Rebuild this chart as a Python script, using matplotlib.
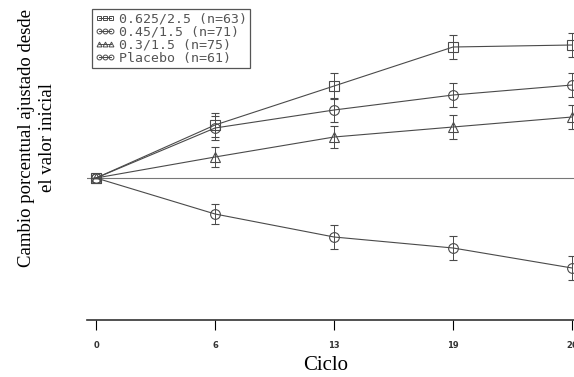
"""
Cambio porcentual ajustado desde el valor inicial por ciclo.
"""

import matplotlib

matplotlib.use("Agg")
import matplotlib.pyplot as plt  # noqa: E402
from matplotlib.lines import Line2D  # noqa: E402

ciclos = ["0", "6", "13", "19", "26"]
series = ["0.625/2.5 (n=63)", "0.45/1.5 (n=71)", "0.3/1.5 (n=75)", "Placebo (n=61)"]
dosis_alta = [0.0, 5.3, 9.2, 13.1, 13.3]
dosis_media = [0.0, 5.0, 6.8, 8.3, 9.3]
dosis_baja = [0.0, 2.1, 4.1, 5.1, 6.1]
placebo = [0.0, -3.6, -5.9, -7.0, -9.0]
err_alta = [0.0, 1.2, 1.3, 1.2, 1.2]
err_media = [0.0, 1.2, 1.2, 1.2, 1.2]
err_baja = [0.0, 1.0, 1.1, 1.2, 1.2]
err_placebo = [0.0, 1.0, 1.2, 1.2, 1.2]

LINE = "#4a4a4a"


def main():
    fig = plt.figure(figsize=(5.74, 3.77), dpi=100)
    ax = fig.add_axes([87 / 574, 57 / 377, 497 / 574, 315 / 377])

    xs = list(range(len(ciclos)))
    datos = [
        (dosis_alta, err_alta, "s"),
        (dosis_media, err_media, "o"),
        (dosis_baja, err_baja, "^"),
        (placebo, err_placebo, "o"),
    ]
    ax.axhline(0, color="#777777", lw=0.8, zorder=1)
    handles = []
    for vals, errs, mk in datos:
        ax.errorbar(
            xs, vals, yerr=errs, color=LINE, lw=0.8, elinewidth=0.7,
            capsize=3, capthick=0.7, marker=mk, markersize=7,
            markerfacecolor="none", markeredgecolor=LINE, markeredgewidth=0.8,
            zorder=3,
        )
        handles.append(Line2D([], [], color=LINE, lw=0.7, marker=mk,
                              markersize=3.5, markerfacecolor="none",
                              markeredgewidth=0.7))

    ax.set_xlim(-0.076, 4.1)
    ax.set_ylim(-14.2, 17.3)
    ax.set_xticks(xs)
    ax.set_xticklabels(ciclos, fontsize=6, fontweight="bold", color="#333333")
    ax.tick_params(axis="x", direction="out", length=7, width=0.8, pad=8)
    ax.set_yticks([])
    for side in ("top", "right", "left"):
        ax.spines[side].set_visible(False)
    ax.spines["bottom"].set_linewidth(1.2)
    ax.spines["bottom"].set_color("#333333")

    leg = ax.legend(
        handles, series, loc="upper left", bbox_to_anchor=(1 / 497, 1.0),
        numpoints=3, prop={"family": "DejaVu Sans Mono", "size": 9.5},
        handlelength=1.5, handletextpad=0.3, borderpad=0.25,
        labelspacing=0.02, borderaxespad=0.3,
        frameon=True, fancybox=False, edgecolor="#555555", framealpha=1,
    )
    leg.get_frame().set_linewidth(0.9)
    for t in leg.get_texts():
        t.set_color("#555555")

    fig.text(326 / 574, 1 - 366 / 377, "Ciclo", family="Liberation Serif",
             fontsize=15, ha="center", va="center")
    fig.text(37 / 574, 1 - 138 / 377,
             "Cambio porcentual ajustado desde\nel valor inicial",
             family="Liberation Serif", fontsize=13.5, ha="center",
             va="center", rotation=90, linespacing=1.3)

    fig.savefig("out.png", dpi=100)
    plt.close(fig)


if __name__ == "__main__":
    main()
